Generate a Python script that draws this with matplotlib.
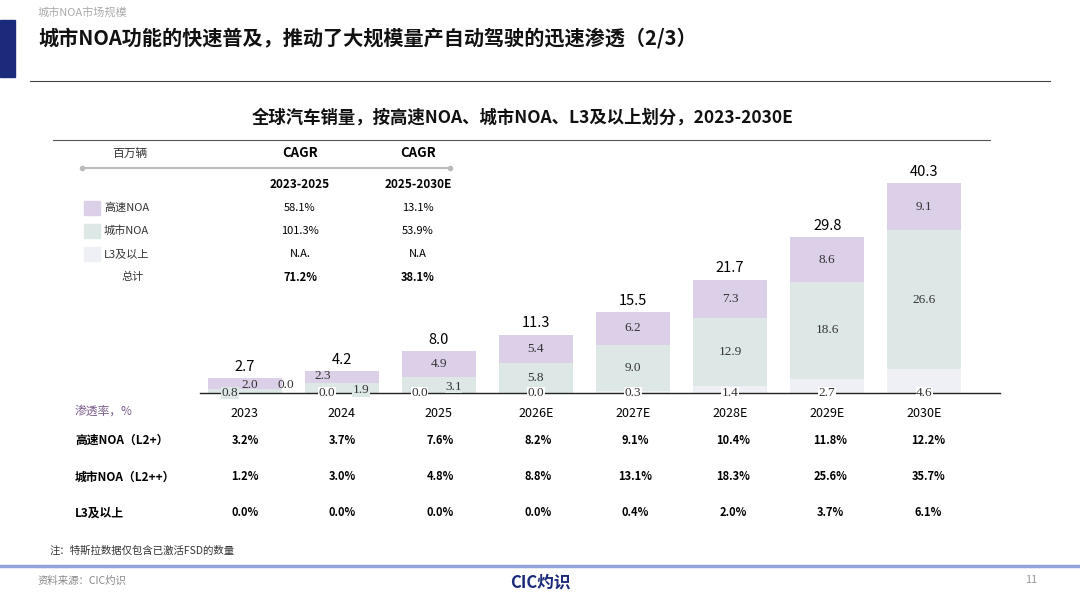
import matplotlib
matplotlib.use("Agg")
import matplotlib.pyplot as plt
from matplotlib.patches import Rectangle
from matplotlib.lines import Line2D

plt.rcParams['font.family'] = ['Noto Sans CJK SC', 'DejaVu Sans']

years = ["2023", "2024", "2025", "2026E", "2027E", "2028E", "2029E", "2030E"]
l3 = [0.0, 0.0, 0.0, 0.0, 0.3, 1.4, 2.7, 4.6]
city = [0.8, 1.9, 3.1, 5.8, 9.0, 12.9, 18.6, 26.6]
highway = [2.0, 2.3, 4.9, 5.4, 6.2, 7.3, 8.6, 9.1]
totals = [2.7, 4.2, 8.0, 11.3, 15.5, 21.7, 29.8, 40.3]
pen_high = ["3.2%", "3.7%", "7.6%", "8.2%", "9.1%", "10.4%", "11.8%", "12.2%"]
pen_city = ["1.2%", "3.0%", "4.8%", "8.8%", "13.1%", "18.3%", "25.6%", "35.7%"]
pen_l3 = ["0.0%", "0.0%", "0.0%", "0.0%", "0.4%", "2.0%", "3.7%", "6.1%"]
legend_names = ["高速NOA", "城市NOA", "L3及以上", "总计"]
cagr1 = ["58.1%", "101.3%", "N.A.", "71.2%"]
cagr2 = ["13.1%", "53.9%", "N.A", "38.1%"]

C_HIGH = "#dccfe8"
C_CITY = "#dde8e6"
C_L3 = "#eef0f5"

W, H = 1080, 608
fig = plt.figure(figsize=(10.8, 6.08), dpi=100)
fig.patch.set_facecolor("white")

def fx(x): return x / W
def fy(y): return 1 - y / H

def T(x, y, s, **kw):
    kw.setdefault("va", "center")
    fig.text(fx(x), fy(y), s, **kw)

# header
fig.add_artist(Rectangle((0, fy(77)), fx(15), fy(20) - fy(77), color="#1b2a7a", transform=fig.transFigure))
T(38, 12, "城市NOA市场规模", fontsize=8, color="#aaaaaa")
T(38, 38, "城市NOA功能的快速普及，推动了大规模量产自动驾驶的迅速渗透（2/3）", fontsize=14.5, fontweight="bold", color="#111111")
fig.add_artist(Line2D([fx(30), fx(1050)], [fy(81), fy(81)], color="#444444", lw=0.8, transform=fig.transFigure))
T(523, 118, "全球汽车销量，按高速NOA、城市NOA、L3及以上划分，2023-2030E", fontsize=12.5, fontweight="bold", ha="center", color="#111111")
fig.add_artist(Line2D([fx(53), fx(990)], [fy(140), fy(140)], color="#555555", lw=0.8, transform=fig.transFigure))

# CAGR table
T(130, 153, "百万辆", fontsize=8.5, style="italic", ha="center", color="#333333")
T(300, 153, "CAGR", fontsize=9.5, fontweight="bold", ha="center")
T(418, 153, "CAGR", fontsize=9.5, fontweight="bold", ha="center")
fig.add_artist(Line2D([fx(82), fx(450)], [fy(168), fy(168)], color="#bbbbbb", lw=1.5, marker="o", ms=3, transform=fig.transFigure))
T(300, 185, "2023-2025", fontsize=8.5, fontweight="bold", ha="center")
T(418, 185, "2025-2030E", fontsize=8.5, fontweight="bold", ha="center")
rows_y = [208, 231, 254, 277]
cols = [C_HIGH, C_CITY, C_L3]
for i, (n, a, b) in enumerate(zip(legend_names, cagr1, cagr2)):
    y = rows_y[i]
    fw = "bold" if i == 3 else "normal"
    if i < 3:
        fig.add_artist(Rectangle((fx(84), fy(y + 7)), fx(16), fy(y - 7) - fy(y + 7), color=cols[i], transform=fig.transFigure))
        T(104, y, n, fontsize=8, color="#333333")
    else:
        T(133, y, n, fontsize=8, ha="center", color="#333333")
    T(300, y, a, fontsize=8, ha="center", fontweight=fw)
    T(418, y, b, fontsize=8, ha="center", fontweight=fw)

# bars
base = 393
scale = 5.21
ax = fig.add_axes([fx(200), fy(base), fx(1000) - fx(200), (base - 150) / H])
x = list(range(len(years)))
bw = 0.76
ax.bar(x, l3, bw, color=C_L3)
ax.bar(x, city, bw, bottom=l3, color=C_CITY)
b2 = [a + b for a, b in zip(l3, city)]
ax.bar(x, highway, bw, bottom=b2, color=C_HIGH)
ax.set_xlim(-0.46, 7.78)
ax.set_ylim(0, 243 / scale)
ax.axis("off")
ax.axhline(0, color="#222222", lw=1.0, clip_on=False, zorder=2.5)
sf = dict(family=["Liberation Serif", "DejaVu Serif"], fontsize=9.5, color="#333333", ha="center", va="center", zorder=4)

# label offsets (dx in bar units, y in data units) for the crowded early years
small = {
    0: {"l3": (0.42, 1.5), "city": (-0.15, 0.0), "high": (0.05, 1.5)},
    1: {"l3": (-0.15, 0.0), "city": (0.2, 0.5), "high": (-0.2, 3.2)},
    2: {"l3": (-0.2, 0.0), "city": (0.15, 1.2), "high": None},
}
for i in x:
    ax.text(i, totals[i] + 2.2, f"{totals[i]:.1f}", fontsize=10.5, ha="center", va="center")
    o = small.get(i, {})
    dx, yy = o.get("l3", (0, 0.0))
    ax.text(i + dx, yy, f"{l3[i]:.1f}", bbox=dict(fc="white" if yy == 0 else "none", ec="none", pad=0.3), **sf)
    if "city" in o:
        dx, yy = o["city"]
        ax.text(i + dx, yy, f"{city[i]:.1f}", bbox=dict(fc=C_CITY, ec="none", pad=0.3), **sf)
    else:
        ax.text(i, l3[i] + city[i] / 2, f"{city[i]:.1f}", **sf)
    if o.get("high"):
        dx, yy = o["high"]
        ax.text(i + dx, yy, f"{highway[i]:.1f}", **sf)
    else:
        ax.text(i, b2[i] + highway[i] / 2, f"{highway[i]:.1f}", **sf)
    ax.text(i, -3.9, years[i], fontsize=9, ha="center", va="center")

# penetration table
T(75, 411, "渗透率，%", fontsize=8.5, style="italic", color="#7a5c8a")
pen_labels = ["高速NOA（L2+）", "城市NOA（L2++）", "L3及以上"]
for lab, vals, y in zip(pen_labels, [pen_high, pen_city, pen_l3], [440, 477, 513]):
    T(75, y, lab, fontsize=8.5, fontweight="bold")
    for i, v in enumerate(vals):
        xp = 245 + i * 97.6
        T(xp, y, v, fontsize=8, fontweight="bold", ha="center")

T(50, 551, "注：特斯拉数据仅包含已激活FSD的数量", fontsize=7.5, color="#333333")
fig.add_artist(Line2D([fx(0), fx(1080)], [fy(566), fy(566)], color="#8fa3d8", lw=2.5, transform=fig.transFigure))
T(38, 581, "资料来源：CIC灼识", fontsize=7.5, style="italic", color="#888888")
T(540, 582, "CIC灼识", fontsize=12, fontweight="bold", ha="center", color="#1b2a7a")
T(1025, 580, "11", fontsize=8, color="#999999")

fig.savefig("out.png", dpi=100)
